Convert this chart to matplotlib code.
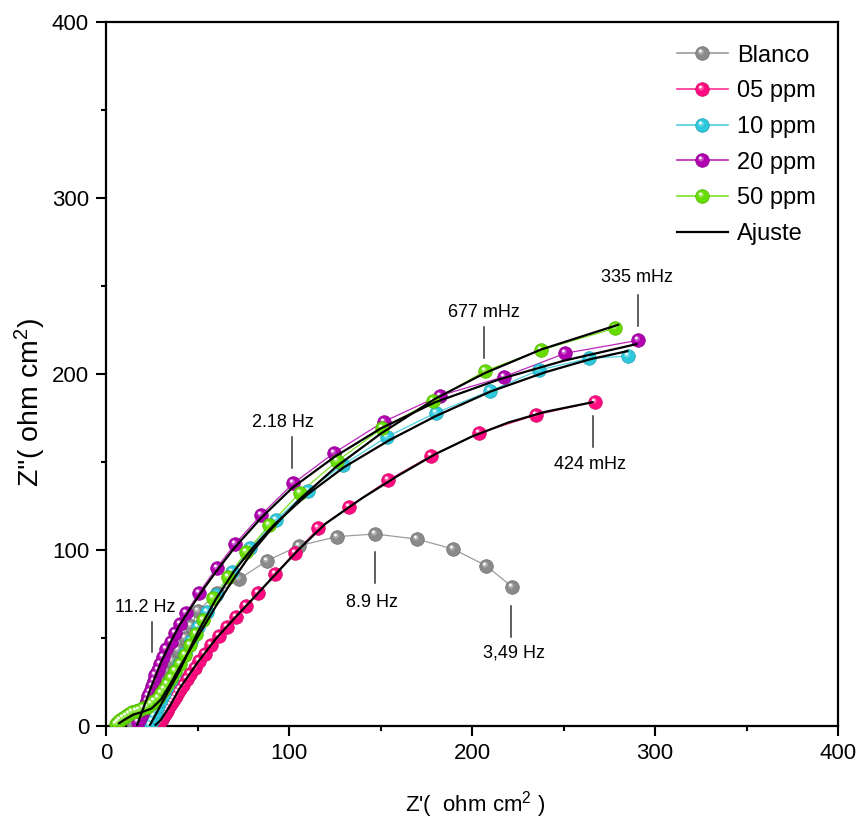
import matplotlib
matplotlib.use("Agg")
import matplotlib.pyplot as plt
from matplotlib.lines import Line2D
from matplotlib.legend_handler import HandlerTuple
from matplotlib.path import Path
import matplotlib.colors as mcolors
import numpy as np

plt.rcParams['font.family'] = ['Liberation Sans', 'DejaVu Sans']
plt.rcParams['mathtext.fontset'] = 'custom'
plt.rcParams['mathtext.rm'] = 'Liberation Sans'
plt.rcParams['mathtext.it'] = 'Liberation Sans'

# ---------------- data ----------------
blanco_x = [15.0, 17.5, 20.0, 22.5, 25.0, 27.5, 30.0, 33.0, 36.0, 39.5, 43.0, 46.5, 50.4, 60.5,
            72.8, 87.8, 105.5, 126.1, 147.0, 169.8, 189.6, 207.7, 221.9]
blanco_y = [1.5, 4.5, 8.0, 12.0, 16.5, 21.0, 26.0, 31.0, 37.0, 43.0, 50.0, 57.0, 65.5, 75.4,
            83.5, 93.8, 102.4, 107.6, 109.1, 106.2, 100.6, 91.1, 79.1]

p05_x = [27.5, 28.5, 29.5, 30.4, 31.3, 32.2, 33.2, 34.1, 35.0, 36.0, 37.0, 38.0, 39.2, 40.5, 42.0,
         44.0, 46.0, 48.4, 51.0, 54.0, 57.5, 61.5, 66.0, 71.0, 76.5, 83.0, 92.3, 103.3, 116.0,
         132.8, 154.3, 177.4, 203.7, 234.8, 267.2]
p05_y = [0.3, 1.3, 2.4, 3.9, 5.3, 6.7, 8.3, 10.0, 11.9, 13.7, 15.5, 17.3, 19.2, 21.3, 23.5,
         26.5, 29.5, 33.0, 37.0, 41.0, 46.0, 51.0, 56.5, 62.0, 68.0, 75.4, 86.2, 98.5, 112.3,
         124.4, 139.8, 153.4, 166.3, 176.7, 184.3]

p10_x = [24.0, 25.0, 26.0, 27.2, 28.5, 30.0, 31.6, 33.4, 35.4, 37.6, 40.0, 43.0, 46.5, 50.5, 55.0,
         60.1, 68.7, 78.7, 92.9, 110.2, 129.7, 153.7, 180.3, 209.8, 236.8, 264.1, 285.4]
p10_y = [0.8, 3.0, 5.5, 8.3, 11.3, 14.6, 18.2, 22.0, 26.3, 30.8, 35.5, 41.5, 48.5, 56.0, 64.5,
         74.4, 87.7, 101.3, 117.0, 133.7, 148.5, 164.4, 178.0, 190.3, 202.3, 208.9, 210.2]

p20_x = [17.7, 18.6, 19.5, 20.4, 21.3, 22.2, 23.1, 24.0, 25.0, 26.0, 27.0, 28.2, 29.5, 31.0, 33.0,
         35.3, 37.7, 40.3, 43.7, 50.8, 60.5, 70.5, 84.7, 102.4, 124.8, 151.7, 182.5, 217.7,
         251.0, 290.7]
p20_y = [2.4, 4.5, 6.8, 9.0, 11.5, 14.0, 16.8, 19.5, 22.5, 25.6, 28.8, 32.0, 35.5, 39.0, 43.5,
         48.0, 53.0, 58.0, 64.0, 75.7, 89.9, 103.4, 119.9, 137.9, 155.3, 172.9, 187.7, 198.5,
         211.8, 219.1]

p50_x = [5.5, 6.5, 7.8, 9.2, 10.8, 12.5, 14.3, 16.2, 18.2, 20.3, 22.4, 24.5, 26.4, 28.2, 30.0,
         31.8, 33.6, 35.6, 37.8, 40.2, 42.9, 45.9, 49.2, 53.0, 58.6, 66.5, 76.5, 89.2, 106.0,
         126.4, 150.8, 178.9, 207.1, 237.7, 278.1]
p50_y = [1.2, 2.5, 3.6, 4.8, 5.8, 6.8, 7.7, 8.5, 9.2, 10.0, 11.0, 12.3, 14.0, 16.0, 18.5,
         21.2, 24.0, 27.5, 31.0, 35.5, 40.5, 46.0, 52.5, 60.0, 72.6, 84.8, 98.7, 114.2, 132.6,
         150.6, 169.1, 184.8, 201.7, 213.6, 226.0]

# fitted curves (Ajuste)
fit05_x = [27, 30, 35, 40, 50, 60, 70, 80, 92, 105, 120, 140, 160, 180, 200, 220, 240, 266]
fit05_y = [0.5, 3.5, 11.5, 21, 36, 49.5, 61, 72, 85.5, 100, 115, 129.5, 142.5, 154.5, 164.5,
           172.5, 178.5, 184]
fit10_x = [24, 30, 40, 50, 60, 70, 80, 92, 110, 130, 155, 180, 210, 240, 265, 285]
fit10_y = [0.5, 12, 31, 53, 72, 88, 101, 114.5, 131.5, 147, 162.5, 176, 190, 201, 208.5, 213]
fit20_x = [17, 20, 25, 30, 35, 40, 45, 52, 60, 70, 85, 102, 125, 150, 180, 215, 250, 290]
fit20_y = [0.5, 9, 23, 36, 47, 57, 65, 76, 87.5, 101, 118.5, 135.5, 153, 169, 184, 197,
           207.5, 217]
fit50_x = [7, 10, 15, 20, 25, 30, 35, 40, 46, 52, 60, 70, 80, 90, 106, 126, 150, 180, 207,
           238, 280]
fit50_y = [1.5, 3.5, 6.5, 8, 10, 15, 23.5, 33, 43.5, 54, 68, 84, 99, 111.5, 129, 147.5, 166,
           186, 200.5, 214, 228]

labels = ["Blanco", "05 ppm", "10 ppm", "20 ppm", "50 ppm", "Ajuste"]
colors = ["#8a8a8a", "#ff0a80", "#2ec8dc", "#b000b0", "#66dd00"]

# annotations: text, text position, tick line x, y0, y1
annotations = [
    ("11.2 Hz", 21.3, 67.6, 25.1, 42.0, 59.0),
    ("2.18 Hz", 96.7, 172.2, 101.5, 146.4, 164.4),
    ("677 mHz", 206.6, 234.7, 206.6, 209.0, 226.9),
    ("335 mHz", 290.0, 255.1, 290.9, 227.3, 244.9),
    ("424 mHz", 264.5, 148.3, 266.3, 158.3, 176.1),
    ("8.9 Hz", 145.2, 70.0, 147.2, 81.1, 99.0),
    ("3,49 Hz", 223.1, 41.6, 221.3, 50.4, 68.2),
]

# ---------------- figure ----------------
fig = plt.figure(figsize=(8.61, 8.31), dpi=100)
ax = fig.add_axes([106 / 861, 1 - 726 / 831, 732 / 861, 704 / 831])


def lighten(c, f):
    r, g, b = mcolors.to_rgb(c)
    return (r + (1 - r) * f, g + (1 - g) * f, b + (1 - b) * f)


def darken(c, f):
    r, g, b = mcolors.to_rgb(c)
    return (r * f, g * f, b * f)


def offset_circle(cx, cy, r):
    # circle marker shifted inside a fixed [-1, 1] frame (frame kept by stray MOVETOs)
    frame = Path([(-1, -1), (1, 1)], [Path.MOVETO, Path.MOVETO])
    circ = Path.circle((cx, cy), r)
    return Path.make_compound_path(frame, circ)


GLOW = offset_circle(-0.22, 0.26, 0.42)
SPOT = offset_circle(-0.30, 0.36, 0.20)

MS = 9.8
series = [(blanco_x, blanco_y), (p05_x, p05_y), (p10_x, p10_y), (p20_x, p20_y), (p50_x, p50_y)]
order = [0, 2, 1, 3, 4]
for i in order:
    x, y = series[i]
    c = colors[i]
    ax.plot(x, y, '-', color=lighten(c, 0.15), lw=0.9, zorder=2 + i * 0.1)
    ax.plot(x, y, 'o', ms=MS, mfc=c, mec=darken(c, 0.8), mew=0.5, zorder=3 + i * 0.1)
    ax.plot(x, y, ls='none', marker=GLOW, ms=MS, mfc=lighten(c, 0.3), mec='none',
            zorder=3.02 + i * 0.1)
    ax.plot(x, y, ls='none', marker=SPOT, ms=MS, mfc='white', mec='none',
            zorder=3.04 + i * 0.1)

for fx, fy in [(fit05_x, fit05_y), (fit10_x, fit10_y), (fit20_x, fit20_y), (fit50_x, fit50_y)]:
    ax.plot(fx, fy, '-', color='black', lw=1.6, zorder=5, solid_capstyle='round')

for txt, tx, ty, lx, ly0, ly1 in annotations:
    ax.text(tx, ty, txt, ha='center', va='center', fontsize=13, zorder=6)
    ax.plot([lx, lx], [ly0, ly1], color='#333333', lw=1.1, zorder=6)

ax.set_xlim(0, 400)
ax.set_ylim(0, 400)
ax.set_xticks([0, 100, 200, 300, 400])
ax.set_yticks([0, 100, 200, 300, 400])
ax.set_xticks([50, 150, 250, 350], minor=True)
ax.set_yticks([50, 150, 250, 350], minor=True)
ax.tick_params(which='major', direction='out', length=7.2, width=1.5, labelsize=16, pad=5)
ax.tick_params(which='minor', direction='out', length=3.6, width=1.5)
ax.tick_params(top=False, right=False)
for s in ax.spines.values():
    s.set_linewidth(1.6)

ax.set_xlabel("Z'(  ohm cm$^2$ )", fontsize=16)
ax.xaxis.set_label_coords(0.504, -0.089)
ax.set_ylabel("Z''( ohm cm$^2$)", fontsize=20.5)
ax.yaxis.set_label_coords(-0.079, 0.46)

# legend
handles = []
for c in colors:
    ln = Line2D([], [], color=lighten(c, 0.15), lw=1.2, marker='o', ms=MS, mfc=c,
                mec=darken(c, 0.8), mew=0.5)
    g = Line2D([], [], ls='none', marker=GLOW, ms=MS, mfc=lighten(c, 0.3), mec='none')
    s = Line2D([], [], ls='none', marker=SPOT, ms=MS, mfc='white', mec='none')
    handles.append((ln, g, s))
handles.append(Line2D([], [], color='black', lw=1.6))
leg = ax.legend(handles, labels, loc='upper left', bbox_to_anchor=(0.78, 0.968),
                frameon=False, fontsize=17, handlelength=2.16, handletextpad=0.4,
                labelspacing=0.58, borderaxespad=0, borderpad=0,
                handler_map={tuple: HandlerTuple(ndivide=1, pad=0)})

fig.savefig("out.png", dpi=100)
